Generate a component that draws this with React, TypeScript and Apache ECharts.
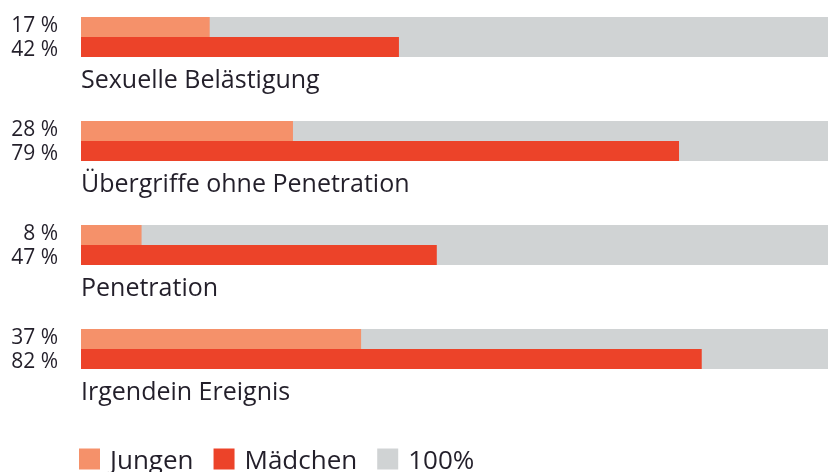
import React, { useEffect, useRef } from "react";
import * as echarts from "echarts";

const categories = [
  "Sexuelle Belästigung",
  "Übergriffe ohne Penetration",
  "Penetration",
  "Irgendein Ereignis",
];
const jungen = [17, 28, 8, 37];
const maedchen = [42, 79, 47, 82];
const seriesNames = ["Jungen", "Mädchen", "100%"];

const FONT = "'Open Sans', 'Noto Sans', sans-serif";
const TEXT = "#231f2a";

const pctLabel = (dy: number) => ({
  show: true,
  position: [-23, dy],
  align: "right",
  verticalAlign: "middle",
  formatter: (p: any) => p.value + " %",
  fontFamily: FONT,
  fontSize: 21,
  lineHeight: 20,
  color: TEXT,
});

export default function App() {
  const ref = useRef<HTMLDivElement>(null);
  useEffect(() => {
    const chart = echarts.init(ref.current!, null, { renderer: "svg" });
    chart.setOption({
      animation: false,
      textStyle: { fontFamily: FONT, color: TEXT },
      grid: { left: 81, right: 0, top: 37, bottom: 123, containLabel: false },
      xAxis: {
        type: "value",
        min: 0,
        max: 100,
        show: false,
      },
      yAxis: [
        { type: "category", data: categories, inverse: true, show: false, boundaryGap: false },
        { type: "category", data: categories, inverse: true, show: false, boundaryGap: false },
      ],
      legend: {
        left: 79,
        top: 446,
        padding: 0,
        icon: "rect",
        itemWidth: 21,
        itemHeight: 21,
        itemGap: 20,
        data: seriesNames,
        textStyle: { fontFamily: FONT, fontSize: 26, color: TEXT, padding: [0, 0, 0, 5] },
      },
      series: [
        {
          name: seriesNames[0],
          type: "bar",
          yAxisIndex: 0,
          data: jungen,
          barWidth: 20,
          barGap: "0%",
          itemStyle: { color: "#f5916a" },
          showBackground: true,
          backgroundStyle: { color: "#d0d3d4" },
          label: pctLabel(7),
        },
        {
          name: seriesNames[1],
          type: "bar",
          yAxisIndex: 0,
          data: maedchen,
          barWidth: 20,
          barGap: "0%",
          itemStyle: { color: "#ec4329" },
          showBackground: true,
          backgroundStyle: { color: "#d0d3d4" },
          label: pctLabel(11),
        },
        {
          name: "labels",
          type: "bar",
          yAxisIndex: 1,
          data: maedchen,
          barWidth: 20,
          itemStyle: { color: "rgba(0,0,0,0)" },
          silent: true,
          legendHoverLink: false,
          label: {
            show: true,
            position: [0, 51],
            align: "left",
            verticalAlign: "middle",
            formatter: (p: any) => p.name,
            fontFamily: FONT,
            fontSize: 25,
            color: TEXT,
          },
        },
        {
          name: seriesNames[2],
          type: "line",
          data: [],
          itemStyle: { color: "#d0d3d4" },
          lineStyle: { color: "#d0d3d4" },
        },
      ],
    });
    return () => chart.dispose();
  }, []);
  return (
    <div
      style={{
        position: "fixed",
        left: 0,
        top: 0,
        width: 828,
        height: 472,
        overflow: "hidden",
      }}
    >
      <div ref={ref} style={{ width: 838, height: 472 }} />
    </div>
  );
}
